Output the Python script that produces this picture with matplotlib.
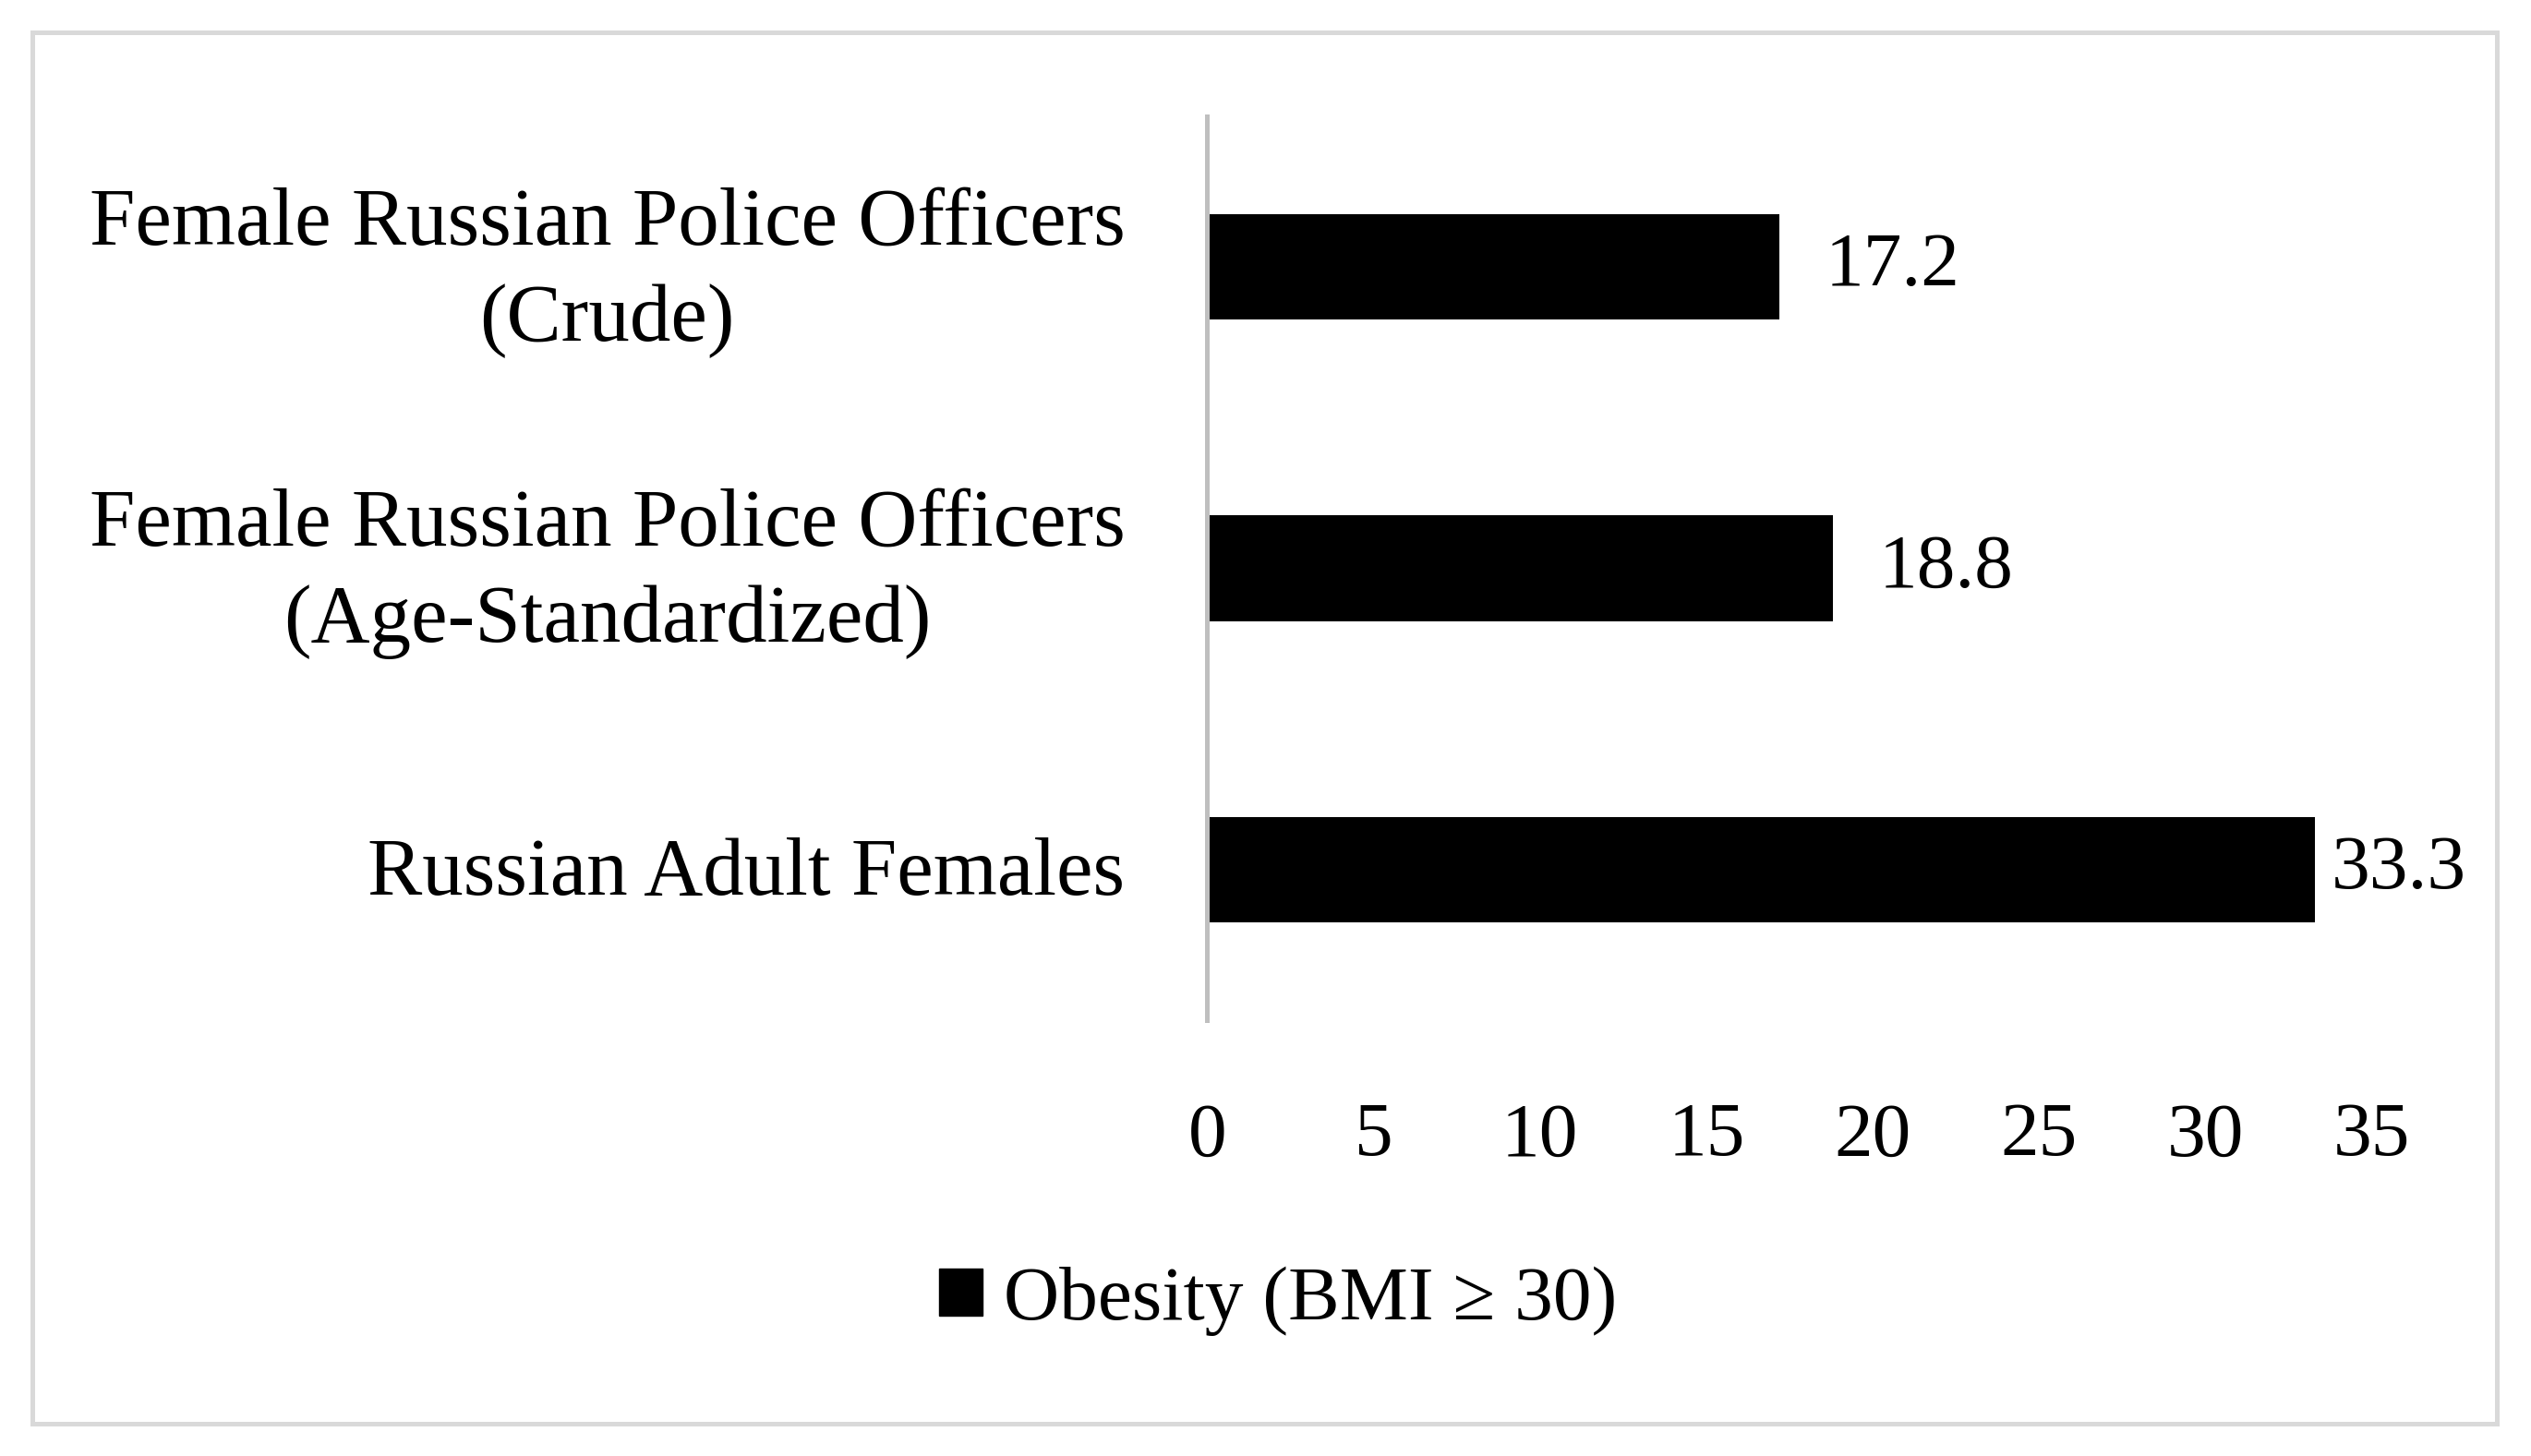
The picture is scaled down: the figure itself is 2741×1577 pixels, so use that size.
"""Horizontal bar chart: obesity prevalence among Russian females."""

import matplotlib

matplotlib.use("Agg")
import matplotlib.pyplot as plt
import matplotlib.transforms as mtransforms
from matplotlib.patches import Patch, Rectangle

categories = [
    "Female Russian Police Officers\n(Crude)",
    "Female Russian Police Officers\n(Age-Standardized)",
    "Russian Adult Females",
]
obesity = [17.2, 18.8, 33.3]
x_ticks = [0, 5, 10, 15, 20, 25, 30, 35]
series_label = "Obesity (BMI \u2265 30)"
label_pads = [36, 36, 13]  # points between bar end and value label

plt.rcParams["font.family"] = ["Liberation Serif", "DejaVu Serif"]
FONT_SIZE = 60

fig = plt.figure(figsize=(27.41, 15.77), dpi=100)
ax = fig.add_axes([0.477, 0.2993, 0.937 - 0.477, 0.920 - 0.2993])

positions = list(range(len(categories)))
bars = ax.barh(positions, obesity, height=0.35, color="black", label=series_label)

for bar, value, pad in zip(bars, obesity, label_pads):
    ax.annotate(
        f"{value:.1f}",
        xy=(bar.get_width(), bar.get_y() + bar.get_height() / 2),
        xytext=(pad, 0),
        textcoords="offset points",
        ha="left",
        va="center",
        fontsize=FONT_SIZE,
    )

ax.set_xlim(0, 35)
ax.set_ylim(len(categories) - 0.5, -0.5)
ax.set_xticks(x_ticks)
ax.set_yticks(positions)
ax.set_yticklabels(categories)
ax.tick_params(axis="x", length=0, pad=64, labelsize=FONT_SIZE)
ax.tick_params(axis="y", length=0, pad=64, labelsize=64)
for label in ax.get_yticklabels():
    label.set_multialignment("center")
    label.set_linespacing(1.38)
    # nudge labels up a little to sit level with the bars
    lift = 11 if "\n" in label.get_text() else 3
    label.set_transform(
        label.get_transform() + mtransforms.ScaledTranslation(0, lift / 72, fig.dpi_scale_trans)
    )

for side in ["top", "right", "bottom"]:
    ax.spines[side].set_visible(False)
ax.spines["left"].set_color("#bfbfbf")
ax.spines["left"].set_linewidth(3.6)

handle = Patch(facecolor="black", edgecolor="black")
fig.legend(
    [handle],
    [series_label],
    loc="center",
    bbox_to_anchor=(0.505, 0.1065),
    frameon=False,
    fontsize=FONT_SIZE,
    handlelength=0.57,
    handleheight=0.57,
    handletextpad=0.28,
)

# light grey frame around the whole chart
fig.patches.append(
    Rectangle(
        (0.0128, 0.022),
        0.9865 - 0.0128,
        0.978 - 0.022,
        transform=fig.transFigure,
        fill=False,
        edgecolor="#d9d9d9",
        linewidth=3.6,
    )
)

fig.savefig("out.png", dpi=100, facecolor="white")
